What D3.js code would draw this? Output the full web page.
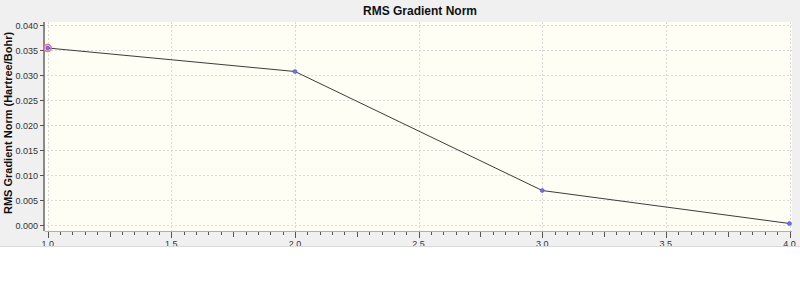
<!DOCTYPE html>
<html>
<head>
<meta charset="utf-8">
<script src="https://cdn.jsdelivr.net/npm/d3@7"></script>
<style>
  body { margin: 0; background: #ffffff; }
  svg { display: block; font-family: "Liberation Sans", Arial, sans-serif; }
</style>
</head>
<body>
<div id="chart"></div>
<script>
// data
const steps = [1, 2, 3, 4];
const rmsGradient = [0.0354, 0.0307, 0.0069, 0.0003];
const yTicks = [0.000, 0.005, 0.010, 0.015, 0.020, 0.025, 0.030, 0.035, 0.040];
const xTicks = [1.0, 1.5, 2.0, 2.5, 3.0, 3.5, 4.0];

const width = 800, height = 306;
const panelH = 246;
const plot = { left: 45, right: 792, top: 22, bottom: 231 };

const svg = d3.select("#chart").append("svg")
  .attr("width", width)
  .attr("height", height);

// gray panel
svg.append("rect")
  .attr("width", width).attr("height", panelH)
  .attr("fill", "#f0f0f0");
svg.append("line")
  .attr("x1", 0).attr("x2", width)
  .attr("y1", panelH + 0.5).attr("y2", panelH + 0.5)
  .attr("stroke", "#dadada");

const defs = svg.append("defs");
defs.append("clipPath").attr("id", "panel-clip")
  .append("rect").attr("width", width).attr("height", panelH);

const x = d3.scaleLinear().domain([1, 4]).range([47.7, 789.5]);
const y = d3.scaleLinear().domain([0, 0.04]).range([225, 25]);

// plot background
svg.append("rect")
  .attr("x", plot.left).attr("y", plot.top)
  .attr("width", plot.right - plot.left)
  .attr("height", plot.bottom - plot.top)
  .attr("fill", "#fefef4");

// grid
const grid = svg.append("g")
  .attr("stroke", "#dadada")
  .attr("stroke-dasharray", "2,2");
grid.selectAll(".gy").data(yTicks).join("line")
  .attr("x1", plot.left + 2).attr("x2", plot.right)
  .attr("y1", d => Math.round(y(d)) + 0.5)
  .attr("y2", d => Math.round(y(d)) + 0.5);
grid.selectAll(".gx").data(xTicks).join("line")
  .attr("y1", plot.top).attr("y2", plot.bottom)
  .attr("x1", d => Math.round(x(d)) + 0.5)
  .attr("x2", d => Math.round(x(d)) + 0.5);

// axes
const yAxis = svg.append("g")
  .attr("transform", `translate(${plot.left - 1},0)`)
  .call(d3.axisLeft(y).tickValues(yTicks).tickFormat(d3.format(".3f")).tickSize(4).tickPadding(2));
yAxis.select(".domain")
  .attr("d", `M0,${plot.top}V${plot.bottom}`)
  .attr("stroke", "#8a8a8a").attr("stroke-width", 2);
yAxis.selectAll(".tick line").attr("stroke", "#555");
yAxis.selectAll(".tick text")
  .attr("font-size", 9).attr("fill", "#333").attr("dy", "0.35em");

const minorTicks = d3.range(1, 4.001, 0.05).map(v => +v.toFixed(2));
const xClip = svg.append("g").attr("clip-path", "url(#panel-clip)");
const xAxisG = xClip.append("g")
  .attr("transform", `translate(0,${plot.bottom})`);
xAxisG.append("line")
  .attr("x1", plot.left).attr("x2", plot.right)
  .attr("y1", 0.5).attr("y2", 0.5)
  .attr("stroke", "#b0b0b0").attr("stroke-width", 1);
xAxisG.selectAll(".minor").data(minorTicks).join("line")
  .attr("x1", d => Math.round(x(d)) + 0.5)
  .attr("x2", d => Math.round(x(d)) + 0.5)
  .attr("y1", 1)
  .attr("y2", d => {
    const r = Math.round(d * 100) % 50 === 0 ? 6 : (Math.round(d * 100) % 25 === 0 ? 5 : 3);
    return 1 + r;
  })
  .attr("stroke", "#555");
xAxisG.selectAll(".xlab").data(xTicks).join("text")
  .attr("x", d => x(d))
  .attr("y", 16)
  .attr("text-anchor", "middle")
  .attr("font-size", 9)
  .attr("fill", "#333")
  .text(d => d.toFixed(1));

// line
const pts = steps.map((s, i) => ({ s, v: rmsGradient[i] }));
svg.append("path")
  .datum(pts)
  .attr("fill", "none")
  .attr("stroke", "#3c3c3c")
  .attr("stroke-width", 1)
  .attr("d", d3.line().x(d => x(d.s)).y(d => y(d.v)));

// highlight ring on the first point
svg.append("circle")
  .attr("cx", x(pts[0].s)).attr("cy", y(pts[0].v))
  .attr("r", 3.5)
  .attr("fill", "none")
  .attr("stroke", "#f07090").attr("stroke-width", 1.5);

svg.selectAll(".pt").data(pts).join("circle")
  .attr("cx", d => x(d.s)).attr("cy", d => y(d.v))
  .attr("r", 2)
  .attr("fill", "#7070f0")
  .attr("stroke", "#4040d0").attr("stroke-width", 0.5);

// titles
svg.append("text")
  .attr("x", 420).attr("y", 15)
  .attr("text-anchor", "middle")
  .attr("font-size", 12).attr("font-weight", "bold")
  .attr("fill", "#111")
  .text("RMS Gradient Norm");

svg.append("text")
  .attr("transform", "translate(12,123) rotate(-90)")
  .attr("text-anchor", "middle")
  .attr("font-size", 11).attr("font-weight", "bold")
  .attr("fill", "#111")
  .text("RMS Gradient Norm (Hartree/Bohr)");
</script>
</body>
</html>
